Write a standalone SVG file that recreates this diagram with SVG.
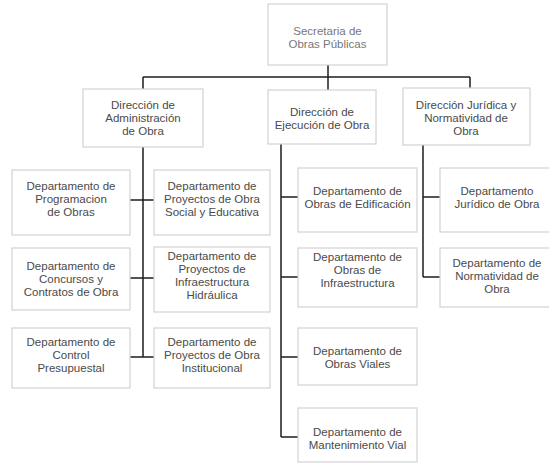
<svg xmlns="http://www.w3.org/2000/svg" width="549" height="464" viewBox="0 0 549 464">
  <style>
    .box { fill: #ffffff; stroke: #d2d2d2; stroke-width: 1.2; }
    .lbl { font-family: "Liberation Sans", Arial, sans-serif; font-size: 11.5px; fill: #4a4a4a; text-anchor: middle; }
    .top { fill: #777777; }
    .wire { fill: none; stroke: #1e1e1e; stroke-width: 1.5; }
  </style>
  <rect width="549" height="464" fill="#ffffff"/>

  <!-- connectors -->
  <g id="connectors">
    <path class="wire" d="M328 65 V77 M143 77 H470 M143 77 V89 M328 77 V90 M470 77 V88"/>
    <!-- administración branch -->
    <path class="wire" d="M143 147 V357 M130 200 H154 M130 278 H154 M130 357 H154"/>
    <!-- ejecución branch -->
    <path class="wire" d="M281 144 V437 M281 197 H298 M281 277 H298 M281 357 H298 M281 437 H298"/>
    <!-- jurídica branch -->
    <path class="wire" d="M423 145 V277 M423 197 H440 M423 277 H440"/>
  </g>

  <g id="secretaria">
    <rect class="box" x="268" y="4" width="119" height="61"/>
    <text class="lbl top" x="327.5" y="35">Secretaria de</text>
    <text class="lbl top" x="327.5" y="48">Obras Públicas</text>
  </g>

  <g id="dir-administracion">
    <rect class="box" x="83" y="89" width="120" height="58"/>
    <text class="lbl" x="143" y="109">Dirección de</text>
    <text class="lbl" x="143" y="122">Administración</text>
    <text class="lbl" x="143" y="135">de Obra</text>
  </g>

  <g id="dir-ejecucion">
    <rect class="box" x="268" y="90" width="108" height="54"/>
    <text class="lbl" x="322" y="115.5">Dirección de</text>
    <text class="lbl" x="322" y="128.5">Ejecución de Obra</text>
  </g>

  <g id="dir-juridica">
    <rect class="box" x="403" y="88" width="127" height="57"/>
    <text class="lbl" x="466" y="109">Dirección Jurídica y</text>
    <text class="lbl" x="466" y="122">Normatividad de</text>
    <text class="lbl" x="466" y="135">Obra</text>
  </g>

  <g id="dep-programacion">
    <rect class="box" x="12" y="170" width="118" height="65"/>
    <text class="lbl" x="71" y="190">Departamento de</text>
    <text class="lbl" x="71" y="203">Programacion</text>
    <text class="lbl" x="71" y="216">de Obras</text>
  </g>

  <g id="dep-social">
    <rect class="box" x="154" y="170" width="116" height="65"/>
    <text class="lbl" x="212" y="190">Departamento de</text>
    <text class="lbl" x="212" y="203">Proyectos de Obra</text>
    <text class="lbl" x="212" y="216">Social y Educativa</text>
  </g>

  <g id="dep-concursos">
    <rect class="box" x="12" y="248" width="118" height="62"/>
    <text class="lbl" x="71" y="269.5">Departamento de</text>
    <text class="lbl" x="71" y="282.5">Concursos y</text>
    <text class="lbl" x="71" y="295.5">Contratos de Obra</text>
  </g>

  <g id="dep-hidraulica">
    <rect class="box" x="154" y="247" width="116" height="65"/>
    <text class="lbl" x="212" y="260">Departamento de</text>
    <text class="lbl" x="212" y="273">Proyectos de</text>
    <text class="lbl" x="212" y="286">Infraestructura</text>
    <text class="lbl" x="212" y="299">Hidráulica</text>
  </g>

  <g id="dep-control">
    <rect class="box" x="12" y="328" width="118" height="60"/>
    <text class="lbl" x="71" y="346">Departamento de</text>
    <text class="lbl" x="71" y="359">Control</text>
    <text class="lbl" x="71" y="372">Presupuestal</text>
  </g>

  <g id="dep-institucional">
    <rect class="box" x="154" y="328" width="116" height="60"/>
    <text class="lbl" x="212" y="346">Departamento de</text>
    <text class="lbl" x="212" y="359">Proyectos de Obra</text>
    <text class="lbl" x="212" y="372">Institucional</text>
  </g>

  <g id="dep-edificacion">
    <rect class="box" x="298" y="168" width="119" height="64"/>
    <text class="lbl" x="357.5" y="195">Departamento de</text>
    <text class="lbl" x="357.5" y="208">Obras de Edificación</text>
  </g>

  <g id="dep-infraestructura">
    <rect class="box" x="298" y="248" width="119" height="59"/>
    <text class="lbl" x="357.5" y="261">Departamento de</text>
    <text class="lbl" x="357.5" y="274">Obras de</text>
    <text class="lbl" x="357.5" y="287">Infraestructura</text>
  </g>

  <g id="dep-viales">
    <rect class="box" x="298" y="328" width="119" height="57"/>
    <text class="lbl" x="357.5" y="355">Departamento de</text>
    <text class="lbl" x="357.5" y="368">Obras Viales</text>
  </g>

  <g id="dep-mantenimiento">
    <rect class="box" x="298" y="408" width="119" height="54"/>
    <text class="lbl" x="357.5" y="436">Departamento de</text>
    <text class="lbl" x="357.5" y="449">Mantenimiento Vial</text>
  </g>

  <g id="dep-juridico">
    <rect class="box" x="440" y="168" width="115" height="64"/>
    <text class="lbl" x="497" y="195">Departamento</text>
    <text class="lbl" x="497" y="208">Jurídico de Obra</text>
  </g>

  <g id="dep-normatividad">
    <rect class="box" x="440" y="248" width="115" height="59"/>
    <text class="lbl" x="497" y="266.5">Departamento de</text>
    <text class="lbl" x="497" y="279.5">Normatividad de</text>
    <text class="lbl" x="497" y="292.5">Obra</text>
  </g>
</svg>
